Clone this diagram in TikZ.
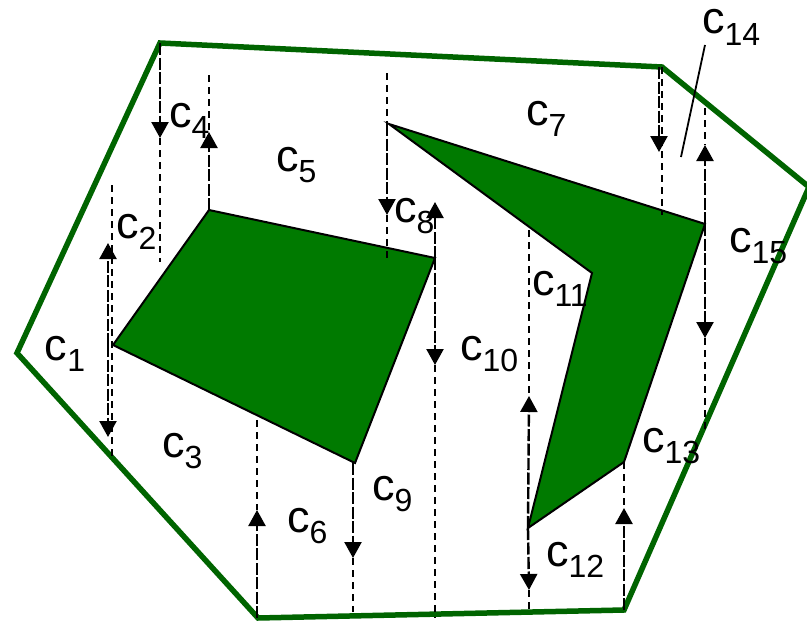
\documentclass[tikz,border=0pt]{standalone}
\usepackage{fontspec}
\setmainfont{Liberation Sans}
\usetikzlibrary{arrows.meta}
\definecolor{outerg}{HTML}{006400}
\definecolor{obstg}{HTML}{007A00}
\newcommand{\cell}[1]{\fontsize{45}{45}\selectfont c\raisebox{-11.5pt}{\fontsize{32}{32}\selectfont #1}}
\tikzset{
  x=1pt,y=-1pt,
  outerpoly/.style={draw=outerg,line width=5.5pt,line join=miter},
  obstacle/.style={draw=black,fill=obstg,line width=2pt,line join=miter},
  wall/.style={draw=black,line width=1.8pt,dash pattern=on 7pt off 5pt},
  trap/.style={draw=black,line width=2.4pt,dash pattern=on 12pt off 2.5pt,-{Triangle[width=17pt,length=16pt]}},
  lab/.style={anchor=base west,inner sep=0pt,outer sep=0pt},
}
\begin{document}
\begin{tikzpicture}
\useasboundingbox (0,0) rectangle (807,621);
\draw[outerpoly] (160,43) -- (662,67) -- (809,187) -- (624,610) -- (258,618) -- (17,353) -- cycle;
\draw[obstacle] (113,345) -- (209,210) -- (435,258) -- (355,463) -- cycle;
\draw[obstacle] (389,124) -- (705,224) -- (624,462) -- (528,528) -- (592,273) -- cycle;
% free ends of the walls and the arrows
\foreach \n/\x/\y in {
  a1/160/43, a2/160/262, a3/160/138,
  b1/209/75, b2/209/210, b3/209/132,
  c1/112/185, c2/112/458, c3/108/345, c4/108/243, c5/108/437,
  d1/387/73, d2/387/258, d3/387/124, d4/387/215,
  e1/435/200, e2/435/618, e3/435/258, e4/435/202, e5/435/365,
  f1/257/420, f2/257/618, f3/257/510,
  g1/353/463, g2/353/612, g3/353/558,
  h1/529/230, h2/529/612, h3/528/528, h4/529/396, h5/529/590,
  i1/624/462, i2/624/610, i3/624/508,
  j1/662/67, j2/662/215, j3/659/67, j4/659/152,
  k1/705/108, k2/705/430, k3/705/224, k4/705/145, k5/705/338,
  l1/705/45, l2/681/157}
  {\coordinate (\n) at (\x,\y);}
\draw[wall] (a3) -- (a2);
\draw[wall] (b1) -- (b3);
\draw[wall] (c1) -- (c2);
\draw[wall] (d1) -- (d3);
\draw[wall] (d4) -- (d2);
\draw[wall] (e5) -- (e2);
\draw[wall] (f1) -- (f3);
\draw[wall] (g3) -- (g2);
\draw[wall] (h1) -- (h4);
\draw[wall] (h5) -- (h2);
\draw[wall] (i1) -- (i3);
\draw[wall] (j1) -- (j2);
\draw[wall] (k1) -- (k4);
\draw[wall] (k5) -- (k2);
\draw[trap] (a1) -- (a3);
\draw[trap] (b2) -- (b3);
\draw[trap] (c3) -- (c4);
\draw[trap] (c3) -- (c5);
\draw[trap] (d3) -- (d4);
\draw[trap] (e3) -- (e4);
\draw[trap] (e3) -- (e5);
\draw[trap] (f2) -- (f3);
\draw[trap] (g1) -- (g3);
\draw[trap] (h3) -- (h4);
\draw[trap] (h3) -- (h5);
\draw[trap] (i2) -- (i3);
\draw[trap] (j3) -- (j4);
\draw[trap] (k3) -- (k4);
\draw[trap] (k3) -- (k5);
\draw[black,line width=1.8pt] (l1) -- (l2);
\node[lab] (t1) at (45,360) {\cell{1}};
\node[lab] (t2) at (116,238) {\cell{2}};
\node[lab] (t3) at (162,457) {\cell{3}};
\node[lab] (t4) at (169,127) {\cell{4}};
\node[lab] (t5) at (276,171) {\cell{5}};
\node[lab] (t6) at (287,532) {\cell{6}};
\node[lab] (t7) at (526,125) {\cell{7}};
\node[lab] (t8) at (394,222) {\cell{8}};
\node[lab] (t9) at (372,500) {\cell{9}};
\node[lab] (t10) at (460,360) {\cell{10}};
\node[lab] (t11) at (532,295) {\cell{11}};
\node[lab] (t12) at (546,566) {\cell{12}};
\node[lab] (t13) at (642,452) {\cell{13}};
\node[lab] (t14) at (702,34) {\cell{14}};
\node[lab] (t15) at (729,252) {\cell{15}};
\end{tikzpicture}
\end{document}
